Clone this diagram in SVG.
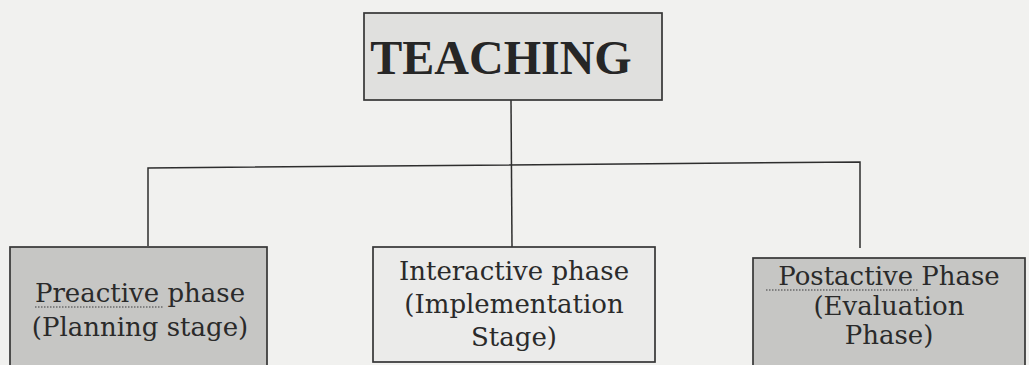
<svg xmlns="http://www.w3.org/2000/svg" width="1029" height="365" viewBox="0 0 1029 365">
  <style>
    .box { stroke: #363636; stroke-width: 1.7; }
    .root { fill: #e0e0de; }
    .dark { fill: #c6c6c4; }
    .light { fill: #ebebea; }
    .title { font-family: "Liberation Serif", "Times New Roman", serif; font-weight: bold; font-size: 48px; fill: #262626; text-anchor: middle; }
    .lbl { font-family: "DejaVu Serif", "Liberation Serif", serif; font-size: 26px; fill: #2a2a2a; text-anchor: middle; }
    .wire { stroke: #2e2e2e; stroke-width: 1.5; fill: none; }
    .squiggle { stroke: #6a6a6a; stroke-width: 1.4; stroke-dasharray: 1.5 1.5; fill: none; }
  </style>

  <!-- paper -->
  <rect width="1029" height="365" fill="#f1f1ef"/>

  <!-- connectors -->
  <g id="connectors">
    <line class="wire" x1="511" y1="100" x2="512" y2="247"/>
    <polyline class="wire" points="148,246 148,168 860,162 860,248"/>
  </g>

  <!-- root node -->
  <g id="teaching">
    <rect class="box root" x="364" y="13" width="298" height="87"/>
    <text class="title" x="501" y="74">TEACHING</text>
  </g>

  <!-- planning -->
  <g id="preactive">
    <rect class="box dark" x="10" y="247" width="257" height="125"/>
    <text class="lbl" x="140" y="302">Preactive phase</text>
    <text class="lbl" x="140" y="336">(Planning stage)</text>
    <line class="squiggle" x1="35" y1="307" x2="164" y2="307"/>
  </g>

  <!-- implementation -->
  <g id="interactive">
    <rect class="box light" x="373" y="247" width="282" height="115"/>
    <text class="lbl" x="514" y="280">Interactive phase</text>
    <text class="lbl" x="514" y="313">(Implementation</text>
    <text class="lbl" x="514" y="346">Stage)</text>
  </g>

  <!-- evaluation -->
  <g id="postactive">
    <rect class="box dark" x="753" y="258" width="272" height="114"/>
    <text class="lbl" x="889" y="285">Postactive Phase</text>
    <text class="lbl" x="889" y="315">(Evaluation</text>
    <text class="lbl" x="889" y="344">Phase)</text>
    <line class="squiggle" x1="766" y1="290" x2="918" y2="290"/>
  </g>
</svg>
